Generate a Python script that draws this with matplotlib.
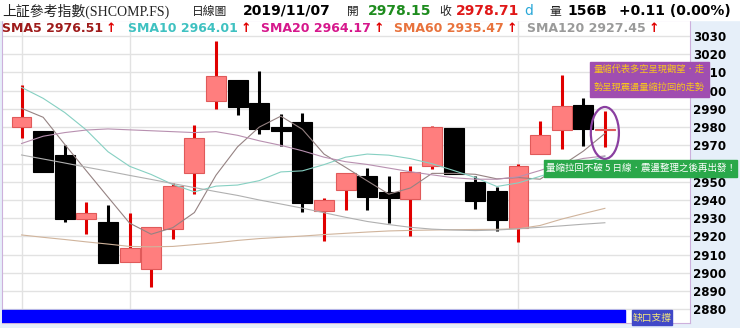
import matplotlib.pyplot as plt
from matplotlib.patches import Rectangle, Ellipse
import numpy as np

plt.rcParams['font.family'] = ['DejaVu Sans', 'Noto Sans CJK TC']

# daily candles, 2019/09/24 .. 2019/11/07
opens = [2980.0, 2978.0, 2964.7, 2929.8, 2928.1, 2905.8, 2902.3, 2924.0, 2955.0, 2994.3,
         3005.9, 2993.1, 2980.3, 2982.6, 2934.1, 2945.5, 2953.2, 2944.2, 2940.5, 2958.6,
         2979.3, 2949.7, 2944.9, 2924.5, 2965.1, 2978.4, 2992.1, 2978.15]
highs = [3003.0, 2978.0, 2970.2, 2939.1, 2937.0, 2933.0, 2925.0, 2949.5, 2981.2, 3027.0,
         3005.9, 3010.8, 2987.0, 2987.6, 2941.0, 2955.0, 2957.7, 2953.3, 2958.6, 2980.5,
         2979.3, 2953.3, 2947.0, 2960.0, 2983.3, 3008.6, 2995.8, 2988.8]
lows = [2974.0, 2955.5, 2928.1, 2921.2, 2905.2, 2905.8, 2892.0, 2918.4, 2943.1, 2989.8,
        2986.5, 2976.0, 2969.8, 2933.2, 2917.7, 2934.5, 2934.5, 2927.2, 2920.4, 2956.8,
        2954.3, 2934.9, 2923.0, 2917.1, 2965.1, 2968.0, 2969.8, 2969.2]
closes = [2985.4, 2955.5, 2929.4, 2932.7, 2905.2, 2913.5, 2925.0, 2947.8, 2973.9, 3008.0,
          2991.2, 2979.0, 2977.7, 2938.2, 2940.0, 2954.6, 2941.8, 2941.3, 2955.2, 2980.2,
          2954.3, 2939.4, 2929.0, 2958.6, 2975.7, 2991.6, 2979.0, 2978.71]

sma5 = [2990.3, 2985.4, 2970.5, 2956.0, 2941.6, 2927.3, 2921.2, 2924.8, 2933.1, 2953.6,
        2969.2, 2980.0, 2986.0, 2978.8, 2965.2, 2957.9, 2950.5, 2943.2, 2946.6, 2954.6,
        2954.6, 2954.1, 2951.6, 2952.3, 2951.4, 2958.9, 2966.8, 2976.5]
sma10 = [3001.8, 2995.8, 2988.0, 2978.4, 2966.5, 2958.5, 2954.0, 2948.5, 2944.5, 2947.6,
         2948.2, 2950.6, 2955.4, 2956.0, 2959.4, 2963.5, 2965.2, 2964.6, 2962.7, 2959.9,
         2956.2, 2952.3, 2947.4, 2949.4, 2953.0, 2956.7, 2960.4, 2964.0]
sma20 = [2971.0, 2975.0, 2977.0, 2978.4, 2979.0, 2978.5, 2978.0, 2977.5, 2977.0, 2977.5,
         2975.5, 2972.5, 2970.0, 2967.0, 2963.5, 2961.0, 2959.5, 2957.5, 2955.5, 2953.8,
         2952.2, 2951.4, 2951.4, 2952.7, 2956.2, 2960.1, 2962.8, 2964.2]
sma60 = [2920.8, 2919.5, 2918.3, 2917.0, 2915.8, 2914.5, 2914.3, 2914.5, 2915.5, 2916.5,
         2917.8, 2918.8, 2919.5, 2920.2, 2921.0, 2921.7, 2922.4, 2923.0, 2923.3, 2923.5,
         2923.7, 2923.8, 2923.9, 2924.2, 2926.0, 2929.5, 2932.5, 2935.4]
sma120 = [2964.7, 2962.5, 2960.3, 2958.0, 2955.8, 2953.5, 2951.3, 2949.0, 2946.8, 2944.6,
          2942.5, 2940.0, 2937.8, 2935.5, 2933.0, 2930.5, 2928.2, 2926.5, 2925.0, 2924.0,
          2923.5, 2923.2, 2923.5, 2924.2, 2925.0, 2925.8, 2926.7, 2927.5]

month_start = [0, 5, 23]
yticks = list(range(2880, 3031, 10))

legend_items = [("SMA5 2976.51", "#9e1a1a", 2),
                ("SMA10 2964.01", "#3fc1c1", 128),
                ("SMA20 2964.17", "#d6178c", 261),
                ("SMA60 2935.47", "#e8723c", 394),
                ("SMA120 2927.45", "#9a9a9a", 527)]

W, H = 740, 328
fig = plt.figure(figsize=(W / 100, H / 100), dpi=100, facecolor="#e6eff9")
fig.patches.append(Rectangle((0, 1 - 20 / H), 1, 20 / H, transform=fig.transFigure,
                             color="white", zorder=0))
ax = fig.add_axes([2 / W, (H - 323.3) / H, 688 / W, 303.3 / H])
ax.set_facecolor("white")

x = np.arange(len(closes))
o = np.array(opens)
c = np.array(closes)
up = c >= o
wick_col = np.where(up, "#e00000", "black")
body_col = np.where(up, "#ff7e7e", "black")
edge_col = np.where(up, "#e05a5a", "black")

ax.vlines(x, lows, highs, colors=wick_col, lw=2.2, zorder=3)
ax.bar(x, np.abs(c - o), bottom=np.minimum(o, c), width=0.92,
       color=body_col, edgecolor=edge_col, lw=0.8, zorder=4)

ax.plot(x, sma5, color="#958282", lw=0.8, zorder=5)
ax.plot(x, sma10, color="#86d0c2", lw=0.8, zorder=5)
ax.plot(x, sma20, color="#b890b0", lw=0.8, zorder=5)
ax.plot(x, sma60, color="#d0b49c", lw=0.8, zorder=5)
ax.plot(x, sma120, color="#b0b0b0", lw=0.8, zorder=5)

ax.set_xlim(-0.905, 30.94)
ax.set_ylim(2872.3, 3038.8)
ax.set_yticks(yticks)
ax.set_xticks([])
ax.yaxis.tick_right()
ax.tick_params(axis="y", length=0, pad=2, labelsize=8.6)
for t in ax.get_yticklabels():
    t.set_fontweight("bold")
ax.grid(axis="y", color="#e2e2e2", lw=1, zorder=0)
for m in month_start:
    ax.axvline(m, color="#e2e2e2", lw=1, zorder=0)
for s in ax.spines.values():
    s.set_color("#cdb0dc")

# gap support band at the bottom
ax.add_patch(Rectangle((0, 0), 0.9055, 0.044, transform=ax.transAxes,
                       color="#0000ff", zorder=6))
# circle around the last candle
ax.add_patch(Ellipse((x[-1], 2976.8), 1.3, 28.5, fill=False,
                     edgecolor="#8a3fa0", lw=1.6, zorder=7))

def fx(px):
    return px / W

def fy(py):
    return 1 - py / H

# header line
cjk = ["Noto Sans CJK TC"]
fig.text(fx(2), fy(11), "上証參考指數(SHCOMP.FS)", family=["Liberation Serif", "Noto Sans CJK TC"],
         fontsize=10, color="#222222", va="center")
fig.text(fx(192), fy(11), "日線圖", family=cjk, fontsize=8.5, color="#222222", va="center")
fig.text(fx(243), fy(11), "2019/11/07", fontsize=10, weight="bold", va="center")
fig.text(fx(347), fy(11), "開", family=cjk, fontsize=8.5, color="#222222", va="center")
fig.text(fx(368), fy(11), "2978.15", fontsize=10, weight="bold", color="#1e8c1e", va="center")
fig.text(fx(439), fy(11), "收", family=cjk, fontsize=8.5, color="#222222", va="center")
fig.text(fx(456), fy(11), "2978.71", fontsize=10, weight="bold", color="#e01818", va="center")
fig.text(fx(524), fy(11), "d", fontsize=10, color="#2aa8d8", va="center")
fig.text(fx(549), fy(11), "量", family=cjk, fontsize=8.5, color="#222222", va="center")
fig.text(fx(567), fy(11), "156B", fontsize=10, weight="bold", va="center")
fig.text(fx(619), fy(11), "+0.11 (0.00%)", fontsize=10, weight="bold", va="center")

# moving average legend row
for label, col, px in legend_items:
    t = fig.text(fx(px), fy(28), label, fontsize=9, weight="bold", color=col, va="center")
    ax.annotate("↑", xy=(1, 0.5), xycoords=t, xytext=(2, 0), textcoords="offset points",
                fontsize=9, weight="bold", color="#e00000", va="center", ha="left")

# callouts
fig.patches.append(Rectangle((fx(590), fy(96.7)), fx(119), 35 / H, transform=fig.transFigure,
                             color="#a04eb0", zorder=8))
fig.text(fx(649.5), fy(69.5), "量縮代表多空呈現觀望．走", family=cjk, fontsize=6.7,
         color="#f7c41e", va="center", ha="center", zorder=9)
fig.text(fx(649.5), fy(87), "勢呈現震盪量縮拉回的走勢", family=cjk, fontsize=6.7,
         color="#f7c41e", va="center", ha="center", zorder=9)

fig.patches.append(Rectangle((fx(544), fy(176.7)), fx(193), 16.7 / H, transform=fig.transFigure,
                             color="#2aa84a", zorder=8))
fig.text(fx(640.5), fy(168.5), "量縮拉回不破 5 日線．震盪整理之後再出發！", family=cjk, fontsize=6.8,
         color="white", va="center", ha="center", zorder=9)

fig.patches.append(Rectangle((fx(632), fy(325)), fx(40), 15 / H, transform=fig.transFigure,
                             color="#4048c8", zorder=8))
fig.text(fx(652), fy(317.5), "缺口支撐", family=cjk, fontsize=7,
         color="#f3e77c", va="center", ha="center", zorder=9)

fig.savefig("out.png", dpi=100, facecolor=fig.get_facecolor())
